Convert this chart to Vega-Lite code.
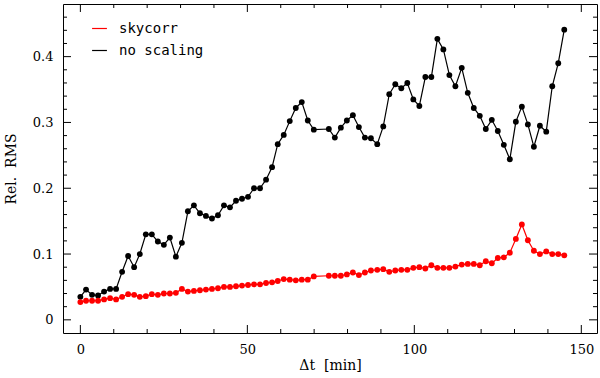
{
  "$schema": "https://vega.github.io/schema/vega-lite/v6.json",
  "width": 534,
  "height": 329,
  "autosize": {"type": "none"},
  "padding": {"left": 63, "top": 4, "right": 3, "bottom": 45},
  "background": "white",
  "config": {
    "view": {"stroke": "black", "strokeWidth": 1},
    "axis": {
      "domain": false,
      "grid": false,
      "ticks": false,
      "labelFont": "DejaVu Serif",
      "labelFontSize": 13,
      "labelColor": "black",
      "titleFont": "DejaVu Serif",
      "titleFontSize": 14,
      "titleFontWeight": "normal",
      "titleColor": "black",
      "labelOverlap": false,
      "labelFlush": false
    }
  },
  "datasets": {
    "main": [
      {"t": 0.0, "no scaling": 0.035, "skycorr": 0.027},
      {"t": 1.7, "no scaling": 0.046, "skycorr": 0.029},
      {"t": 3.5, "no scaling": 0.038, "skycorr": 0.029},
      {"t": 5.3, "no scaling": 0.037, "skycorr": 0.029},
      {"t": 7.1, "no scaling": 0.043, "skycorr": 0.031},
      {"t": 8.9, "no scaling": 0.047, "skycorr": 0.033},
      {"t": 10.7, "no scaling": 0.047, "skycorr": 0.031},
      {"t": 12.5, "no scaling": 0.073, "skycorr": 0.035},
      {"t": 14.3, "no scaling": 0.097, "skycorr": 0.039},
      {"t": 16.1, "no scaling": 0.080, "skycorr": 0.038},
      {"t": 17.8, "no scaling": 0.100, "skycorr": 0.035},
      {"t": 19.6, "no scaling": 0.130, "skycorr": 0.036},
      {"t": 21.4, "no scaling": 0.130, "skycorr": 0.039},
      {"t": 23.2, "no scaling": 0.119, "skycorr": 0.038},
      {"t": 25.0, "no scaling": 0.114, "skycorr": 0.040},
      {"t": 26.8, "no scaling": 0.125, "skycorr": 0.040},
      {"t": 28.6, "no scaling": 0.096, "skycorr": 0.041},
      {"t": 30.4, "no scaling": 0.117, "skycorr": 0.047},
      {"t": 32.2, "no scaling": 0.165, "skycorr": 0.043},
      {"t": 34.0, "no scaling": 0.174, "skycorr": 0.044},
      {"t": 35.8, "no scaling": 0.162, "skycorr": 0.045},
      {"t": 37.6, "no scaling": 0.158, "skycorr": 0.046},
      {"t": 39.4, "no scaling": 0.154, "skycorr": 0.047},
      {"t": 41.2, "no scaling": 0.159, "skycorr": 0.048},
      {"t": 43.0, "no scaling": 0.174, "skycorr": 0.050},
      {"t": 44.8, "no scaling": 0.171, "skycorr": 0.050},
      {"t": 46.6, "no scaling": 0.181, "skycorr": 0.051},
      {"t": 48.4, "no scaling": 0.184, "skycorr": 0.052},
      {"t": 50.2, "no scaling": 0.187, "skycorr": 0.053},
      {"t": 52.0, "no scaling": 0.200, "skycorr": 0.054},
      {"t": 53.8, "no scaling": 0.200, "skycorr": 0.054},
      {"t": 55.6, "no scaling": 0.213, "skycorr": 0.056},
      {"t": 57.4, "no scaling": 0.232, "skycorr": 0.057},
      {"t": 59.1, "no scaling": 0.267, "skycorr": 0.059},
      {"t": 60.9, "no scaling": 0.281, "skycorr": 0.062},
      {"t": 62.7, "no scaling": 0.302, "skycorr": 0.061},
      {"t": 64.5, "no scaling": 0.322, "skycorr": 0.060},
      {"t": 66.3, "no scaling": 0.331, "skycorr": 0.061},
      {"t": 68.1, "no scaling": 0.303, "skycorr": 0.061},
      {"t": 69.9, "no scaling": 0.289, "skycorr": 0.066},
      {"t": 74.4, "no scaling": 0.290, "skycorr": 0.067},
      {"t": 76.2, "no scaling": 0.277, "skycorr": 0.067},
      {"t": 78.0, "no scaling": 0.292, "skycorr": 0.067},
      {"t": 79.8, "no scaling": 0.303, "skycorr": 0.069},
      {"t": 81.6, "no scaling": 0.311, "skycorr": 0.072},
      {"t": 83.4, "no scaling": 0.293, "skycorr": 0.068},
      {"t": 85.2, "no scaling": 0.277, "skycorr": 0.072},
      {"t": 87.0, "no scaling": 0.276, "skycorr": 0.075},
      {"t": 88.9, "no scaling": 0.267, "skycorr": 0.076},
      {"t": 90.7, "no scaling": 0.294, "skycorr": 0.077},
      {"t": 92.5, "no scaling": 0.343, "skycorr": 0.073},
      {"t": 94.3, "no scaling": 0.358, "skycorr": 0.075},
      {"t": 96.1, "no scaling": 0.352, "skycorr": 0.076},
      {"t": 97.9, "no scaling": 0.360, "skycorr": 0.076},
      {"t": 99.7, "no scaling": 0.335, "skycorr": 0.079},
      {"t": 101.5, "no scaling": 0.325, "skycorr": 0.080},
      {"t": 103.3, "no scaling": 0.369, "skycorr": 0.078},
      {"t": 105.1, "no scaling": 0.369, "skycorr": 0.083},
      {"t": 106.9, "no scaling": 0.427, "skycorr": 0.079},
      {"t": 108.7, "no scaling": 0.411, "skycorr": 0.079},
      {"t": 110.5, "no scaling": 0.372, "skycorr": 0.079},
      {"t": 112.3, "no scaling": 0.355, "skycorr": 0.081},
      {"t": 114.2, "no scaling": 0.383, "skycorr": 0.084},
      {"t": 116.0, "no scaling": 0.345, "skycorr": 0.085},
      {"t": 117.8, "no scaling": 0.322, "skycorr": 0.085},
      {"t": 119.6, "no scaling": 0.310, "skycorr": 0.083},
      {"t": 121.4, "no scaling": 0.290, "skycorr": 0.089},
      {"t": 123.2, "no scaling": 0.304, "skycorr": 0.086},
      {"t": 125.0, "no scaling": 0.287, "skycorr": 0.094},
      {"t": 126.8, "no scaling": 0.266, "skycorr": 0.095},
      {"t": 128.6, "no scaling": 0.244, "skycorr": 0.102},
      {"t": 130.4, "no scaling": 0.301, "skycorr": 0.123},
      {"t": 132.2, "no scaling": 0.324, "skycorr": 0.145},
      {"t": 134.0, "no scaling": 0.297, "skycorr": 0.121},
      {"t": 135.8, "no scaling": 0.263, "skycorr": 0.105},
      {"t": 137.6, "no scaling": 0.295, "skycorr": 0.100},
      {"t": 139.5, "no scaling": 0.286, "skycorr": 0.104},
      {"t": 141.3, "no scaling": 0.355, "skycorr": 0.100},
      {"t": 143.1, "no scaling": 0.390, "skycorr": 0.100},
      {"t": 144.9, "no scaling": 0.441, "skycorr": 0.098}
    ],
    "xticks": [
      {"xt": 0}, {"xt": 10}, {"xt": 20}, {"xt": 30}, {"xt": 40}, {"xt": 50}, {"xt": 60}, {"xt": 70},
      {"xt": 80}, {"xt": 90}, {"xt": 100}, {"xt": 110}, {"xt": 120}, {"xt": 130}, {"xt": 140}, {"xt": 150}
    ],
    "yticks": [
      {"yt": 0}, {"yt": 0.02}, {"yt": 0.04}, {"yt": 0.06}, {"yt": 0.08}, {"yt": 0.1}, {"yt": 0.12}, {"yt": 0.14},
      {"yt": 0.16}, {"yt": 0.18}, {"yt": 0.2}, {"yt": 0.22}, {"yt": 0.24}, {"yt": 0.26}, {"yt": 0.28}, {"yt": 0.3},
      {"yt": 0.32}, {"yt": 0.34}, {"yt": 0.36}, {"yt": 0.38}, {"yt": 0.4}, {"yt": 0.42}, {"yt": 0.44}, {"yt": 0.46}
    ]
  },
  "layer": [
    {
      "data": {"name": "main"},
      "transform": [{"fold": ["no scaling", "skycorr"], "as": ["series", "v"]}],
      "mark": {"type": "line", "strokeWidth": 1.2},
      "encoding": {
        "x": {
          "field": "t", "type": "quantitative",
          "scale": {"domain": [-5.2, 154.7], "nice": false, "zero": false},
          "axis": {
            "orient": "bottom",
            "title": "Δt\u00a0\u00a0[min]",
            "values": [0, 50, 100, 150],
            "domain": false,
            "ticks": false,
            "grid": false,
            "zindex": 0,
            "labelPadding": 10,
            "titlePadding": 2
          }
        },
        "y": {
          "field": "v", "type": "quantitative",
          "scale": {"domain": [-0.02, 0.48], "nice": false, "zero": false},
          "axis": {
            "orient": "left",
            "title": "Rel.\u00a0\u00a0RMS",
            "values": [0, 0.1, 0.2, 0.3, 0.4],
            "format": ".1~f",
            "domain": false,
            "ticks": false,
            "grid": false,
            "zindex": 0,
            "labelPadding": 10,
            "titlePadding": 14
          }
        },
        "color": {
          "field": "series", "type": "nominal",
          "scale": {"domain": ["skycorr", "no scaling"], "range": ["#ff0000", "#000000"]},
          "legend": {
            "orient": "none",
            "legendX": 28,
            "legendY": 16,
            "title": null,
            "padding": 0,
            "symbolType": "stroke",
            "symbolSize": 220,
            "symbolStrokeWidth": 1.2,
            "labelFont": "DejaVu Sans Mono",
            "labelFontSize": 14,
            "labelColor": "black",
            "labelOffset": 11,
            "rowPadding": 6
          }
        }
      }
    },
    {
      "data": {"name": "main"},
      "transform": [{"fold": ["no scaling", "skycorr"], "as": ["series", "v"]}],
      "mark": {"type": "point", "filled": true, "size": 34, "opacity": 1},
      "encoding": {
        "x": {"field": "t", "type": "quantitative", "axis": null},
        "y": {"field": "v", "type": "quantitative", "axis": null},
        "color": {"field": "series", "type": "nominal", "legend": null}
      }
    },
    {
      "data": {"name": "xticks"},
      "transform": [{"filter": "datum.xt % 50 === 0"}],
      "mark": {"type": "rule", "color": "black", "strokeWidth": 1},
      "encoding": {
        "x": {"field": "xt", "type": "quantitative", "axis": null},
        "y": {"datum": -0.02, "type": "quantitative", "axis": null},
        "y2": {"datum": -0.00786}
      }
    },
    {
      "data": {"name": "xticks"},
      "transform": [{"filter": "datum.xt % 50 !== 0"}],
      "mark": {"type": "rule", "color": "black", "strokeWidth": 1},
      "encoding": {
        "x": {"field": "xt", "type": "quantitative", "axis": null},
        "y": {"datum": -0.02, "type": "quantitative", "axis": null},
        "y2": {"datum": -0.01393}
      }
    },
    {
      "data": {"name": "xticks"},
      "transform": [{"filter": "datum.xt % 50 === 0"}],
      "mark": {"type": "rule", "color": "black", "strokeWidth": 1},
      "encoding": {
        "x": {"field": "xt", "type": "quantitative", "axis": null},
        "y": {"datum": 0.48, "type": "quantitative", "axis": null},
        "y2": {"datum": 0.46786}
      }
    },
    {
      "data": {"name": "xticks"},
      "transform": [{"filter": "datum.xt % 50 !== 0"}],
      "mark": {"type": "rule", "color": "black", "strokeWidth": 1},
      "encoding": {
        "x": {"field": "xt", "type": "quantitative", "axis": null},
        "y": {"datum": 0.48, "type": "quantitative", "axis": null},
        "y2": {"datum": 0.47393}
      }
    },
    {
      "data": {"name": "yticks"},
      "transform": [{"filter": "abs(datum.yt*10 - round(datum.yt*10)) < 0.001"}],
      "mark": {"type": "rule", "color": "black", "strokeWidth": 1},
      "encoding": {
        "y": {"field": "yt", "type": "quantitative", "axis": null},
        "x": {"datum": -5.2, "type": "quantitative", "axis": null},
        "x2": {"datum": -2.805}
      }
    },
    {
      "data": {"name": "yticks"},
      "transform": [{"filter": "abs(datum.yt*10 - round(datum.yt*10)) >= 0.001"}],
      "mark": {"type": "rule", "color": "black", "strokeWidth": 1},
      "encoding": {
        "y": {"field": "yt", "type": "quantitative", "axis": null},
        "x": {"datum": -5.2, "type": "quantitative", "axis": null},
        "x2": {"datum": -4.002}
      }
    },
    {
      "data": {"name": "yticks"},
      "transform": [{"filter": "abs(datum.yt*10 - round(datum.yt*10)) < 0.001"}],
      "mark": {"type": "rule", "color": "black", "strokeWidth": 1},
      "encoding": {
        "y": {"field": "yt", "type": "quantitative", "axis": null},
        "x": {"datum": 154.7, "type": "quantitative", "axis": null},
        "x2": {"datum": 152.305}
      }
    },
    {
      "data": {"name": "yticks"},
      "transform": [{"filter": "abs(datum.yt*10 - round(datum.yt*10)) >= 0.001"}],
      "mark": {"type": "rule", "color": "black", "strokeWidth": 1},
      "encoding": {
        "y": {"field": "yt", "type": "quantitative", "axis": null},
        "x": {"datum": 154.7, "type": "quantitative", "axis": null},
        "x2": {"datum": 153.502}
      }
    }
  ],
  "resolve": {"axis": {"x": "independent", "y": "independent"}}
}
